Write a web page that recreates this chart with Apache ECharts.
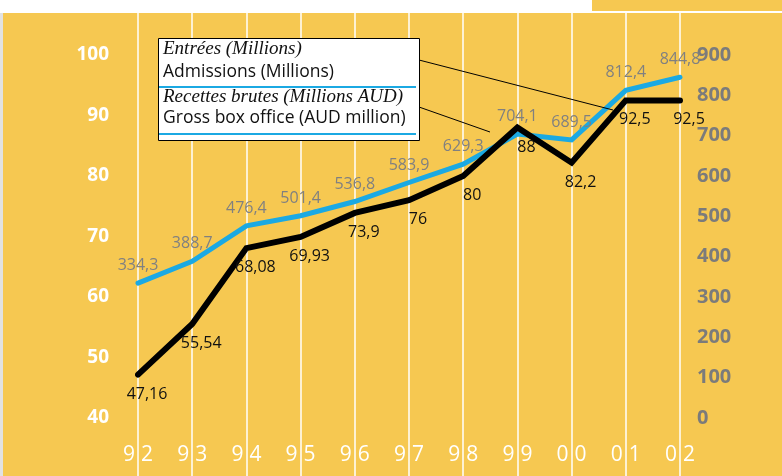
<!DOCTYPE html>
<html>
<head>
<meta charset="utf-8">
<script src="https://cdn.jsdelivr.net/npm/echarts@6/dist/echarts.min.js"></script>
<style>
    body { margin: 0; background: #fff; }
    .wrap { position: relative; width: 782px; height: 476px; overflow: hidden; }
    .bg-main { position: absolute; left: 3px; top: 13px; width: 779px; height: 463px; background: #F6C851; }
    .bg-top { position: absolute; left: 592px; top: 0; width: 190px; height: 11px; background: #F6C851; }
    .bg-edge { position: absolute; left: 0; top: 13px; width: 3px; height: 463px; background: #e2e2e2; }
    #chart { position: absolute; left: 0; top: 0; width: 782px; height: 476px; }
</style>
</head>
<body>
<div class="wrap">
    <div class="bg-edge"></div>
    <div class="bg-main"></div>
    <div class="bg-top"></div>
    <div id="chart"></div>
</div>
<script>
    // annees
    var years = ['92', '93', '94', '95', '96', '97', '98', '99', '00', '01', '02'];
    // Entrées / Admissions (Millions) - axe gauche
    var admissions = [47.16, 55.54, 68.08, 69.93, 73.9, 76, 80, 88, 82.2, 92.5, 92.5];
    // Recettes brutes / Gross box office (AUD million) - axe droit
    var boxOffice = [334.3, 388.7, 476.4, 501.4, 536.8, 583.9, 629.3, 704.1, 689.5, 812.4, 844.8];

    var BLUE = '#1BA9E3';

    function comma(p) {
        return String(p.value).replace('.', ',');
    }

    var chart = echarts.init(document.getElementById('chart'));

    chart.setOption({
        animation: false,
        backgroundColor: 'transparent',
        grid: [
            { left: 138, right: 102, top: 55, bottom: 58 },
            // grille de fond pour les traits blancs pleine hauteur
            { left: 138, right: 102, top: 13, bottom: 0 }
        ],
        xAxis: [
            {
                type: 'category',
                gridIndex: 0,
                data: years,
                boundaryGap: false,
                axisLine: { show: false },
                axisTick: { show: false },
                splitLine: { show: false },
                axisLabel: {
                    interval: 0,
                    margin: 27,
                    color: '#fff',
                    fontFamily: 'Open Sans',
                    fontSize: 21,
                    formatter: function (v) {
                        return '{a|' + v[0] + '}{b|' + v[1] + '}';
                    },
                    rich: {
                        a: { color: '#fff', fontFamily: 'Open Sans', fontSize: 21, padding: [0, 3, 0, 0] },
                        b: { color: '#fff', fontFamily: 'Open Sans', fontSize: 21, padding: [0, 0, 0, 3] }
                    }
                }
            },
            {
                type: 'category',
                gridIndex: 1,
                data: years,
                boundaryGap: false,
                axisLine: { show: false },
                axisTick: { show: false },
                axisLabel: { show: false },
                splitLine: { show: true, interval: 0, lineStyle: { color: '#fff', width: 1.5 } }
            }
        ],
        yAxis: [
            {
                type: 'value',
                gridIndex: 0,
                min: 40,
                max: 100,
                interval: 10,
                position: 'left',
                axisLine: { show: false },
                axisTick: { show: false },
                splitLine: { show: false },
                axisLabel: {
                    margin: 29,
                    color: '#fff',
                    fontFamily: 'Open Sans',
                    fontWeight: 'bold',
                    fontSize: 19
                }
            },
            {
                type: 'value',
                gridIndex: 0,
                min: 0,
                max: 900,
                interval: 100,
                position: 'right',
                axisLine: { show: false },
                axisTick: { show: false },
                splitLine: { show: false },
                axisLabel: {
                    margin: 17,
                    color: '#7b7b7b',
                    fontFamily: 'Open Sans',
                    fontWeight: 'bold',
                    fontSize: 20
                }
            },
            {
                type: 'value',
                gridIndex: 1,
                show: false
            }
        ],
        series: [
            {
                name: 'Gross box office (AUD million)',
                type: 'line',
                xAxisIndex: 0,
                yAxisIndex: 1,
                data: boxOffice,
                showSymbol: true,
                symbol: 'circle',
                symbolSize: 1,
                itemStyle: { color: BLUE },
                lineStyle: { color: BLUE, width: 5, cap: 'round', join: 'miter' },
                label: {
                    show: true,
                    position: 'top',
                    distance: 9,
                    color: '#808080',
                    fontFamily: 'Open Sans',
                    fontSize: 16,
                    formatter: comma
                },
                z: 3
            },
            {
                name: 'Admissions (Millions)',
                type: 'line',
                xAxisIndex: 0,
                yAxisIndex: 0,
                data: admissions,
                showSymbol: true,
                symbol: 'circle',
                symbolSize: 1,
                itemStyle: { color: '#000' },
                lineStyle: { color: '#000', width: 6, cap: 'round', join: 'miter' },
                label: {
                    show: true,
                    position: 'bottom',
                    distance: 11,
                    offset: [9, 0],
                    color: '#111',
                    fontFamily: 'Open Sans',
                    fontSize: 16,
                    formatter: comma
                },
                z: 4
            }
        ],
        graphic: [
            // traits de rappel de la legende
            { type: 'line', z: 10, shape: { x1: 419, y1: 60, x2: 613, y2: 110 }, style: { stroke: '#000', lineWidth: 1 } },
            { type: 'line', z: 10, shape: { x1: 419, y1: 107, x2: 490, y2: 132 }, style: { stroke: '#000', lineWidth: 1 } },
            // cadre legende
            { type: 'rect', z: 11, shape: { x: 158.5, y: 38.5, width: 261, height: 102 }, style: { fill: '#fff', stroke: '#000', lineWidth: 1 } },
            { type: 'text', z: 12, left: 163, top: 39, style: { text: 'Entrées (Millions)', fill: '#111', font: 'italic 19px "Liberation Serif"' } },
            { type: 'text', z: 12, left: 163, top: 63, style: { text: 'Admissions (Millions)', fill: '#111', font: '17.5px "Open Sans"' } },
            { type: 'line', z: 12, shape: { x1: 159, y1: 87, x2: 416, y2: 87 }, style: { stroke: BLUE, lineWidth: 2 } },
            { type: 'text', z: 12, left: 163, top: 87, style: { text: 'Recettes brutes (Millions AUD)', fill: '#111', font: 'italic 19px "Liberation Serif"' } },
            { type: 'text', z: 12, left: 163, top: 109, style: { text: 'Gross box office (AUD million)', fill: '#111', font: '17.5px "Open Sans"' } },
            { type: 'line', z: 12, shape: { x1: 159, y1: 134, x2: 416, y2: 134 }, style: { stroke: BLUE, lineWidth: 2 } }
        ]
    });
</script>
</body>
</html>
